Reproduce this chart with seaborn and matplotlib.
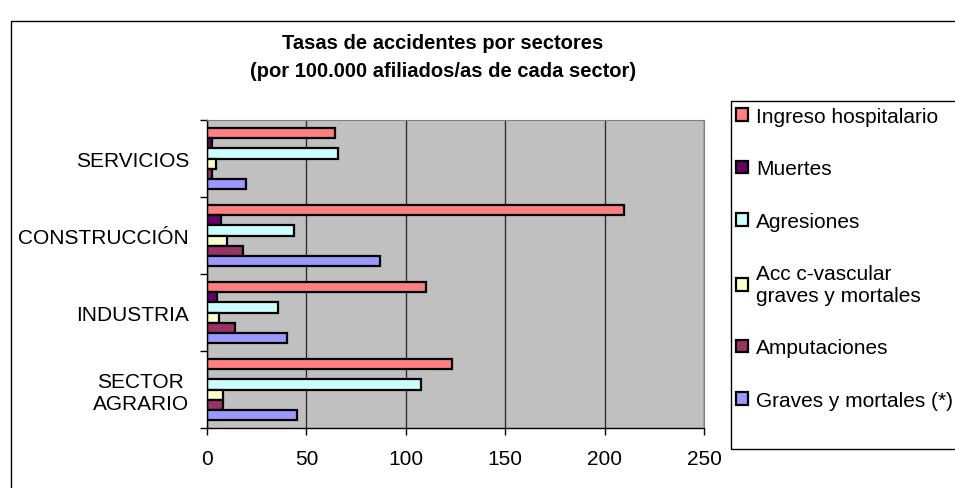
import numpy as np
import pandas as pd
import matplotlib.pyplot as plt
import seaborn as sns
from matplotlib.patches import Rectangle

# datos
sectores = ["SERVICIOS", "CONSTRUCCIÓN", "INDUSTRIA", "SECTOR\nAGRARIO"]
series = ["Ingreso hospitalario", "Muertes", "Agresiones",
          "Acc c-vascular\ngraves y mortales", "Amputaciones",
          "Graves y mortales (*)"]
ingreso = [64.5, 210, 110, 123]
muertes = [2.7, 7, 5, 0]
agresiones = [66, 44, 35.5, 107.5]
acc_cvascular = [4.4, 10, 6, 8]
amputaciones = [2.5, 18, 14, 8]
graves = [19.7, 87, 40, 45.5]
colores = ["#FF8080", "#660066", "#CCFFFF", "#FFFFCC", "#993366", "#9999FF"]
x_ticks = [0, 50, 100, 150, 200, 250]

rows = []
for serie, vals in zip(series, [ingreso, muertes, agresiones, acc_cvascular, amputaciones, graves]):
    for sec, v in zip(sectores, vals):
        rows.append({"sector": sec, "serie": serie, "tasa": v})
df = pd.DataFrame(rows)

sns.set_style("white")
plt.rcParams['font.family'] = ['Liberation Sans', 'DejaVu Sans']
plt.rcParams.update({"text.color": "black", "xtick.color": "black",
                     "ytick.color": "black", "axes.labelcolor": "black"})

W, H = 955, 489
fig = plt.figure(figsize=(W / 100, H / 100), dpi=100)
ax = fig.add_axes([207 / W, 1 - 429 / H, (704 - 207) / W, (429 - 121) / H])

sns.barplot(data=df, x="tasa", y="sector", hue="serie", order=sectores,
            hue_order=series, palette=colores, orient="h", width=0.8,
            edgecolor="black", linewidth=1.6, saturation=1, errorbar=None, ax=ax)

ax.set_facecolor("#C0C0C0")
ax.set_xlim(0, 250)
ax.set_xticks(x_ticks)
ax.set_xlabel("")
ax.set_ylabel("")
ax.set_axisbelow(True)
ax.grid(axis="x", color="#303030", linewidth=1)
ax.grid(axis="y", visible=False)

for side in ["top", "right"]:
    ax.spines[side].set_color("#808080")
for side in ["left", "bottom"]:
    ax.spines[side].set_color("black")
    ax.spines[side].set_linewidth(1)

ax.tick_params(axis="x", direction="out", length=5, width=1, color="black",
               labelcolor="black", labelsize=15, pad=10, bottom=True)
ax.tick_params(axis="y", which="major", length=0, labelsize=15, pad=13,
               labelcolor="black")
ax.set_yticks(np.arange(-0.5, len(sectores)), minor=True)
ax.tick_params(axis="y", which="minor", direction="out", length=5, width=1,
               color="black", left=True)
for lab in ax.get_yticklabels():
    lab.set_multialignment("center")

handles, labels = ax.get_legend_handles_labels()
ax.get_legend().remove()
fig.legend(handles, labels, loc="upper left",
           bbox_to_anchor=(736 / W, 1 - 108 / H), frameon=False, fontsize=15,
           labelspacing=1.6, handlelength=0.56, handleheight=0.56,
           handletextpad=0.42, borderpad=0, borderaxespad=0, labelcolor="black")

# marco de la leyenda y del grafico
fig.add_artist(Rectangle((731 / W, 1 - 450 / H), 0.5, (450 - 102) / H,
                         transform=fig.transFigure, fill=False,
                         edgecolor="black", linewidth=1))
fig.add_artist(Rectangle((11 / W, -0.1), 1.1, 1 - 22 / H + 0.1,
                         transform=fig.transFigure, fill=False,
                         edgecolor="black", linewidth=1))

fig.text(443 / W, 1 - 57.5 / H,
         "Tasas de accidentes por sectores\n(por 100.000 afiliados/as de cada sector)",
         ha="center", va="center", fontsize=14.5, fontweight="bold",
         linespacing=1.6, color="black")

fig.savefig("out.png", dpi=100)
